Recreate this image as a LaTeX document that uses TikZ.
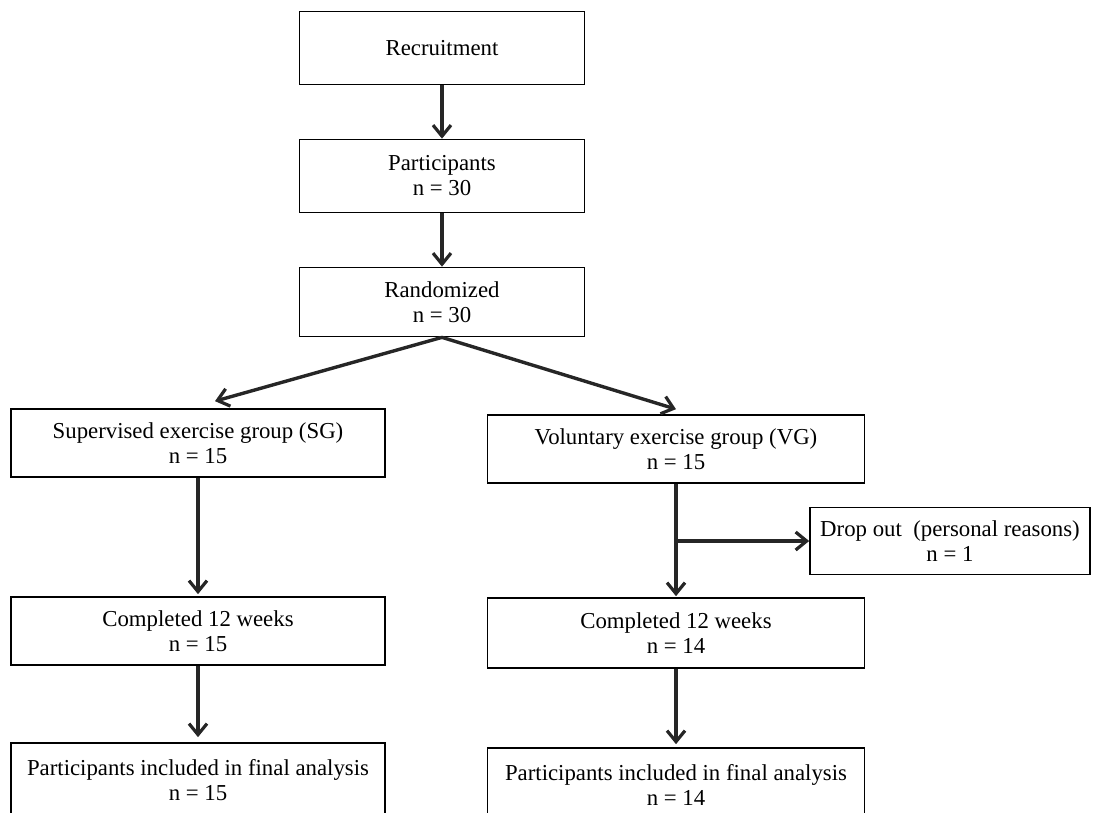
\documentclass[tikz,border=0pt]{standalone}
\usepackage{fontspec}
\setmainfont{Liberation Serif}
\usetikzlibrary{arrows.meta,positioning,calc}
\tikzset{
  stepbox/.style={draw, line width=1.7pt, align=center, inner sep=0pt,
    font=\fontsize{22.8}{25}\selectfont},
  flowln/.style={-{Straight Barb[length=11pt,width=18pt,line width=3.2pt]},
    line width=3.4pt, black!85},
}
\begin{document}
\begin{tikzpicture}[x=1pt, y=-1pt]
    \useasboundingbox (0,0) rectangle (1098,812);
    % top column
    \node[stepbox, minimum width=285pt, minimum height=73pt] (recruit) at (442,48) {Recruitment};
    \node[stepbox, minimum width=285pt, minimum height=73pt] (partic) at (442,176) {Participants\\n = 30};
    \node[stepbox, minimum width=285pt, minimum height=69pt] (random) at (442,302) {Randomized\\n = 30};
    % the two groups
    \node[stepbox, minimum width=374pt, minimum height=68pt] (sgroup) at (198,443) {Supervised exercise group (SG)\\n = 15};
    \node[stepbox, minimum width=377pt, minimum height=68pt] (vgroup) at (676,449) {Voluntary exercise group (VG)\\n = 15};
    \node[stepbox, minimum width=280pt, minimum height=67pt] (dropout) at (950,541) {Drop out~~(personal reasons)\\n = 1};
    \node[stepbox, minimum width=374pt, minimum height=68pt] (sgdone) at (198,631) {Completed 12 weeks\\n = 15};
    \node[stepbox, minimum width=377pt, minimum height=70pt] (vgdone) at (676,633) {Completed 12 weeks\\n = 14};
    \node[stepbox, minimum width=374pt, minimum height=74pt] (sgfinal) at (198,780) {Participants included in final analysis\\n = 15};
    \node[stepbox, minimum width=377pt, minimum height=74pt] (vgfinal) at (676,785) {Participants included in final analysis\\n = 14};
    % connectors
    \draw[flowln] (recruit) -- (partic);
    \draw[flowln] (partic) -- (random);
    \draw[flowln] (random.south) -- ([xshift=17pt,yshift=7pt]sgroup.north);
    \draw[flowln] (random.south) -- ([yshift=5pt]vgroup.north);
    \draw[flowln] (sgroup) -- ([yshift=2pt]sgdone.north);
    \draw[flowln] (vgroup) -- ([yshift=1pt]vgdone.north);
    \draw[flowln] (vgroup.south |- dropout.west) -- (dropout.west);
    \draw[flowln] (sgdone) -- ([yshift=5pt]sgfinal.north);
    \draw[flowln] (vgdone) -- ([yshift=3pt]vgfinal.north);
\end{tikzpicture}
\end{document}
